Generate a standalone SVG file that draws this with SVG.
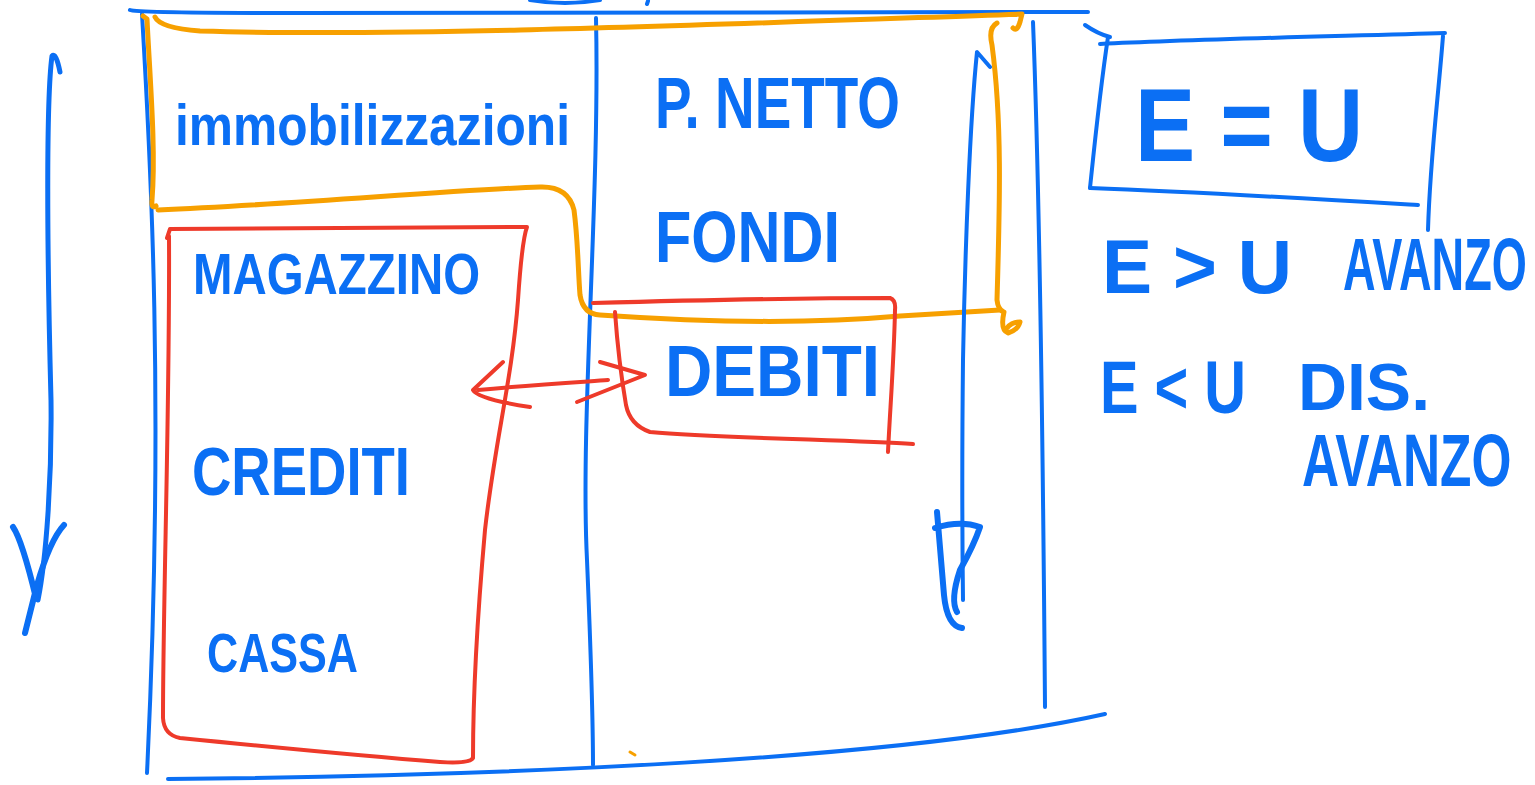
<svg xmlns="http://www.w3.org/2000/svg" width="1535" height="785" viewBox="0 0 1535 785">
<style>
.b{fill:none;stroke:#0b6ff4;stroke-width:4;stroke-linecap:round;stroke-linejoin:round}
.bt{fill:none;stroke:#0b6ff4;stroke-width:6;stroke-linecap:round;stroke-linejoin:round}
.o{fill:none;stroke:#f7a000;stroke-width:5;stroke-linecap:round;stroke-linejoin:round}
.r{fill:none;stroke:#ee3a2a;stroke-width:4;stroke-linecap:round;stroke-linejoin:round}
.t{fill:#0b6ff4;font-family:"Liberation Sans","DejaVu Sans",sans-serif;font-weight:bold}
</style>
<rect width="1535" height="785" fill="#ffffff"/>
<g id="frame">
<path class="b" d="M130,10 Q136,13 300,13 L1088,12"/>
<path class="b" d="M142,14 C150,150 165,400 147,773"/>
<path class="b" d="M168,779 C500,776 900,760 1105,714"/>
<path class="b" d="M596,18 C600,200 580,420 587,560 C592,680 593,720 593,765"/>
<path class="b" d="M1033,22 C1040,200 1043,450 1045,707"/>
<path class="b" d="M530,0 Q565,6 600,0"/>
<path class="b" d="M648,1 L647,4"/>
</g>
<g id="orange-region">
<path class="o" d="M155,17 Q160,28 200,31 C400,37 700,25 1022,14 L1020,22 Q1017,32 1013,28"/>
<path class="o" d="M143,16 L147,19 C150,80 156,150 152,200 Q151,209 156,206"/>
<path class="o" d="M158,210 C300,204 450,190 540,187 Q568,186 574,210 C578,240 578,270 580,295 Q583,314 600,315 C700,322 800,325 900,316 L1000,310"/>
<path class="o" d="M997,23 Q988,28 992,45 C1002,120 1000,200 997,300 Q998,310 1004,312 Q1000,330 1008,333 Q1018,330 1020,322 Q1012,322 1007,328"/>
<path class="o" d="M630,752 L635,755" style="stroke-width:3"/>
</g>
<g id="current-assets">
<path class="r" d="M167,238 L170,229 L527,227 Q522,240 518,300 C512,380 495,440 485,530 C477,620 473,700 473,758 Q470,764 440,762 C350,755 250,745 180,738 Q164,735 163,718 C163,600 170,400 169,236"/>
</g>
<g id="debts-box">
<path class="r" d="M593,303 C700,300 800,298 890,298 Q896,300 895,310 C894,360 890,410 888,452"/>
<path class="r" d="M913,444 C850,440 720,438 650,432 Q630,425 626,405 C620,370 617,340 615,312"/>
</g>
<g id="eu-box">
<path class="b" d="M1085,25 Q1098,34 1110,37"/>
<path class="b" d="M1100,44 C1200,39 1350,36 1445,33"/>
<path class="b" d="M1443,36 C1438,100 1430,160 1428,230"/>
<path class="b" d="M1418,205 C1300,198 1200,192 1090,188"/>
<path class="b" d="M1090,188 C1095,140 1100,90 1108,37"/>
</g>
<g id="labels">
<text class="t" x="175" y="145" font-size="58" textLength="395" lengthAdjust="spacingAndGlyphs">immobilizzazioni</text>
<text class="t" x="655" y="128" font-size="72" textLength="245" lengthAdjust="spacingAndGlyphs">P. NETTO</text>
<text class="t" x="655" y="262" font-size="72" textLength="185" lengthAdjust="spacingAndGlyphs">FONDI</text>
<text class="t" x="665" y="396" font-size="72" textLength="215" lengthAdjust="spacingAndGlyphs">DEBITI</text>
<text class="t" x="193" y="294" font-size="58" textLength="287" lengthAdjust="spacingAndGlyphs">MAGAZZINO</text>
<text class="t" x="192" y="495" font-size="68" textLength="218" lengthAdjust="spacingAndGlyphs">CREDITI</text>
<text class="t" x="207" y="672" font-size="56" textLength="151" lengthAdjust="spacingAndGlyphs">CASSA</text>
<text class="t" x="1135" y="161" font-size="104" textLength="228" lengthAdjust="spacingAndGlyphs">E = U</text>
<text class="t" x="1102" y="293" font-size="76" textLength="190" lengthAdjust="spacingAndGlyphs">E &gt; U</text>
<text class="t" font-size="74" transform="translate(1343,290) scale(0.61,1)">AVANZO</text>
<text class="t" x="1100" y="413" font-size="74" textLength="146" lengthAdjust="spacingAndGlyphs">E &lt; U</text>
<text class="t" x="1298" y="410" font-size="66" textLength="132" lengthAdjust="spacingAndGlyphs">DIS.</text>
<text class="t" font-size="74" transform="translate(1302,486) scale(0.695,1)">AVANZO</text>
</g>
<g id="connectors">
<path class="r" d="M478,390 C530,385 580,382 608,380"/>
<path class="r" d="M503,362 L473,390 Q478,399 530,407"/>
<path class="r" d="M600,362 L645,375 L577,402"/>
<path class="b" d="M60,72 Q56,52 52,56 C46,100 47,250 51,400 C52,480 46,560 38,600" style="stroke-width:5"/>
<path class="bt" d="M13,527 Q22,540 36,598 M64,525 Q50,540 37,585 L25,633"/>
<path class="b" d="M990,67 L977,52 C970,120 965,250 963,360 C962,450 962,520 963,600"/>
<path class="bt" d="M937,512 L944,595 Q947,626 962,628 M935,528 Q960,520 980,527 Q974,545 960,570 Q950,600 957,612"/>
</g>
</svg>
